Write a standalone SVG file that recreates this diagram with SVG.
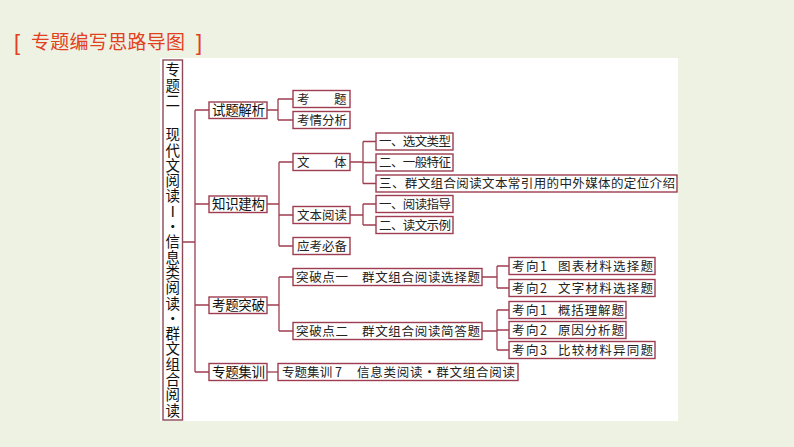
<svg xmlns="http://www.w3.org/2000/svg" width="794" height="447" viewBox="0 0 794 447">
<style>
.b{fill:#fff;stroke:#9e3d50;stroke-width:1.4}
.l{stroke:#9e3d50;stroke-width:1.3;fill:none}
.t{font-family:"Noto Sans CJK SC","Noto Sans",sans-serif;font-size:12.5px;fill:#222}
.h{font-family:"Noto Sans CJK SC","Noto Sans",sans-serif;font-size:13.5px;fill:#111}
.v{font-family:"Noto Sans CJK SC","Noto Sans",sans-serif;font-size:14.5px;fill:#111;writing-mode:vertical-rl;text-orientation:upright;letter-spacing:0.8px}
.ti{font-family:"Noto Sans CJK SC","Noto Sans",sans-serif;font-size:19px;fill:#e2401f}
.br{font-family:"Liberation Sans",sans-serif;font-size:22px;fill:#e2401f}
</style>
<rect x="0" y="0" width="794" height="447" fill="#edf2e3"/>
<rect x="160" y="58" width="518" height="363" fill="#ffffff"/>
<g id="title">
<text class="br" x="14" y="50">[</text>
<text class="ti" x="31" y="49" textLength="154" lengthAdjust="spacing">专题编写思路导图</text>
<text class="br" x="196" y="50">]</text>
</g>
<g id="connectors">
<path class="l" d="M182 242H195M195 110V372M195 110H209M195 204H209M195 305H209M195 372H209"/>
<path class="l" d="M267 110H278M278 99V120M278 99H293M278 120H293"/>
<path class="l" d="M267 204H279M279 162V246M279 162H293M279 215H293M279 246H293"/>
<path class="l" d="M350 162H363M363 141.5V183.5M363 141.5H376M363 162.5H376M363 183.5H376"/>
<path class="l" d="M350 215H363M363 204V225M363 204H376M363 225H376"/>
<path class="l" d="M267 305H279M279 277V331M279 277H293M279 331H293"/>
<path class="l" d="M482 277H497M497 266V288M497 266H509M497 288H509"/>
<path class="l" d="M482 331H497M497 310V350M497 310H509M497 330H509M497 350H509"/>
<path class="l" d="M267 372H278"/>
</g>
<g id="root">
<rect class="b" x="163" y="60" width="19.5" height="360" style="stroke:#8a4a58"/>
<text class="v" x="172.8" y="62.5">专题二</text>
<text class="v" x="172.8" y="127.5">现代文阅读Ⅰ·信息类阅读·群文组合阅读</text>
</g>
<g id="n1"><rect class="b" x="209" y="102" width="58" height="16.5"/><text class="h" x="212" y="115" textLength="53" lengthAdjust="spacing">试题解析</text></g>
<g id="n2"><rect class="b" x="209" y="196" width="58" height="16.5"/><text class="h" x="212" y="209" textLength="53" lengthAdjust="spacing">知识建构</text></g>
<g id="n3"><rect class="b" x="209" y="297" width="58" height="16.5"/><text class="h" x="212" y="310" textLength="53" lengthAdjust="spacing">考题突破</text></g>
<g id="n4"><rect class="b" x="209" y="363.5" width="58" height="17"/><text class="h" x="212" y="376.5" textLength="53" lengthAdjust="spacing">专题集训</text></g>
<g id="n5"><rect class="b" x="293" y="90.5" width="57" height="17"/><text class="t" x="297" y="103.5">考</text><text class="t" x="334" y="103.5">题</text></g>
<g id="n6"><rect class="b" x="293" y="111.5" width="57" height="17"/><text class="t" x="297" y="124.5" textLength="50" lengthAdjust="spacing">考情分析</text></g>
<g id="n7"><rect class="b" x="293" y="153.5" width="57" height="17"/><text class="t" x="297" y="166.5">文</text><text class="t" x="334" y="166.5">体</text></g>
<g id="n8"><rect class="b" x="293" y="206.5" width="57" height="17"/><text class="t" x="297" y="219.5" textLength="50" lengthAdjust="spacing">文本阅读</text></g>
<g id="n9"><rect class="b" x="293" y="237.5" width="57" height="17"/><text class="t" x="297" y="250.5" textLength="50" lengthAdjust="spacing">应考必备</text></g>
<g id="n10"><rect class="b" x="376" y="133" width="77" height="17"/><text class="t" x="379" y="146" textLength="72" lengthAdjust="spacing">一、选文类型</text></g>
<g id="n11"><rect class="b" x="376" y="154" width="77" height="17"/><text class="t" x="379" y="167" textLength="72" lengthAdjust="spacing">二、一般特征</text></g>
<g id="n12"><rect class="b" x="376" y="175" width="301" height="17"/><text class="t" x="379" y="188" textLength="296" lengthAdjust="spacing">三、群文组合阅读文本常引用的中外媒体的定位介绍</text></g>
<g id="n13"><rect class="b" x="376" y="195.5" width="77" height="17"/><text class="t" x="379" y="208.5" textLength="72" lengthAdjust="spacing">一、阅读指导</text></g>
<g id="n14"><rect class="b" x="376" y="216.5" width="77" height="17"/><text class="t" x="379" y="229.5" textLength="72" lengthAdjust="spacing">二、读文示例</text></g>
<g id="n15"><rect class="b" x="293" y="268.5" width="189" height="17"/><text class="t" x="296" y="281.5" textLength="52" lengthAdjust="spacing">突破点一</text><text class="t" x="362" y="281.5" textLength="118" lengthAdjust="spacing">群文组合阅读选择题</text></g>
<g id="n16"><rect class="b" x="293" y="322.5" width="189" height="17"/><text class="t" x="296" y="335.5" textLength="52" lengthAdjust="spacing">突破点二</text><text class="t" x="362" y="335.5" textLength="118" lengthAdjust="spacing">群文组合阅读简答题</text></g>
<g id="n17"><rect class="b" x="509" y="257.5" width="146" height="17"/><text class="t" x="512" y="270.5" textLength="35" lengthAdjust="spacing">考向1</text><text class="t" x="558" y="270.5" textLength="95" lengthAdjust="spacing">图表材料选择题</text></g>
<g id="n18"><rect class="b" x="509" y="279.5" width="146" height="17"/><text class="t" x="512" y="292.5" textLength="35" lengthAdjust="spacing">考向2</text><text class="t" x="558" y="292.5" textLength="95" lengthAdjust="spacing">文字材料选择题</text></g>
<g id="n19"><rect class="b" x="509" y="301.5" width="117" height="17"/><text class="t" x="512" y="314.5" textLength="35" lengthAdjust="spacing">考向1</text><text class="t" x="558" y="314.5" textLength="66" lengthAdjust="spacing">概括理解题</text></g>
<g id="n20"><rect class="b" x="509" y="321.5" width="117" height="17"/><text class="t" x="512" y="334.5" textLength="35" lengthAdjust="spacing">考向2</text><text class="t" x="558" y="334.5" textLength="66" lengthAdjust="spacing">原因分析题</text></g>
<g id="n21"><rect class="b" x="509" y="341.5" width="146" height="17"/><text class="t" x="512" y="354.5" textLength="35" lengthAdjust="spacing">考向3</text><text class="t" x="558" y="354.5" textLength="95" lengthAdjust="spacing">比较材料异同题</text></g>
<g id="n22"><rect class="b" x="278" y="363.5" width="240" height="17"/><text class="t" x="282" y="376.5" textLength="60" lengthAdjust="spacing">专题集训 7</text><text class="t" x="357" y="376.5" textLength="158" lengthAdjust="spacing">信息类阅读·群文组合阅读</text></g>
</svg>
